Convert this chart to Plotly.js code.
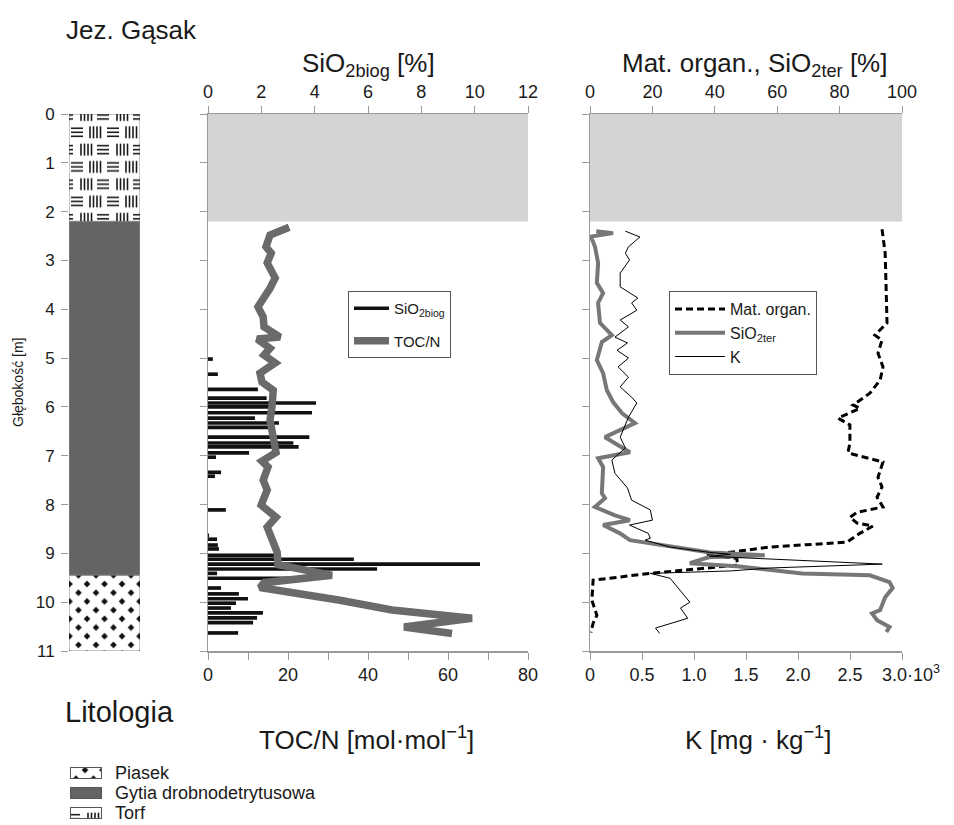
<!DOCTYPE html>
<html><head><meta charset="utf-8">
<script src="https://cdn.plot.ly/plotly-3.0.1.min.js"></script>
<style>html,body{margin:0;padding:0;background:#fff}</style>
</head><body><div id="chart" style="width:954px;height:825px"></div>
<script>
// ---------------- DATA ----------------
const lithNames = ['Torf', 'Gytia drobnodetrytusowa', 'Piasek'];
const lithTop = [0, 2.2, 9.45];
const lithBottom = [2.2, 9.45, 11];
const noDataDepth = [0, 2.2];
const depthTicks = [0,1,2,3,4,5,6,7,8,9,10,11];

// SiO2 biog [%] (bars)
const sio2Depth = [5.02,5.33,5.64,5.82,5.92,6.00,6.12,6.23,6.33,6.42,6.62,6.74,6.82,6.94,7.03,7.34,7.42,8.11,8.63,8.71,8.83,8.91,9.04,9.12,9.22,9.32,9.41,9.51,9.71,9.83,9.93,10.02,10.12,10.22,10.32,10.42,10.63];
const sio2Biog  = [0.18,0.37,1.87,2.2,4.05,2.4,3.9,1.76,2.66,2.4,3.8,3.2,3.4,1.54,0.3,0.49,0.26,0.67,0.04,0.34,0.37,0.41,2.55,5.47,10.2,6.34,0.34,3.68,0.49,1.16,1.5,1.05,0.86,2.06,1.84,1.69,1.13];

// TOC/N [mol/mol]
const tocDepth = [2.32,2.48,2.72,2.85,3.05,3.36,3.57,3.81,3.95,4.16,4.36,4.57,4.61,4.80,4.94,5.10,5.31,5.49,5.66,6.00,6.27,6.62,6.93,7.11,7.23,7.50,7.70,8.01,8.26,8.46,8.73,8.98,9.23,9.45,9.60,9.70,9.96,10.16,10.33,10.51,10.64];
const tocN     = [20.3,15.5,14.5,15.8,14.8,16.8,15.5,13.5,12.5,13.8,14.0,18.0,12.3,15.5,14.0,16.8,13.0,13.5,16.3,16.0,15.5,16.3,17.0,13.5,15.0,13.8,14.8,13.3,17.0,14.8,16.3,17.3,17.5,31.0,14.0,13.0,33.0,46.0,66.0,49.0,61.0];

// Mat. organ. [%]
const orgDepth = [2.36,2.85,3.54,4.28,4.53,4.63,4.90,5.18,5.45,5.72,5.96,6.03,6.23,6.37,6.74,6.93,6.97,7.13,7.44,7.64,7.85,8.05,8.16,8.26,8.38,8.44,8.59,8.77,8.87,9.04,9.10,9.24,9.41,9.55,9.96,10.27,10.43,10.62];
const matOrgan = [93.6,94.6,94.9,95.2,91.3,93.6,92.3,93.9,93.0,89.7,84.3,86.5,79.5,83.3,83.3,82.7,84.3,93.9,92.3,93.6,92.0,93.9,85.6,83.3,85.6,90.7,86.5,82.4,57.7,37.5,47.0,47.4,19.2,1.0,0.6,2.2,1.0,0.3];

// SiO2 ter [%]
const terDepth = [2.40,2.44,2.51,2.72,3.05,3.46,3.67,3.87,4.28,4.53,4.67,5.04,5.31,5.66,5.90,6.13,6.33,6.62,6.93,7.05,7.23,7.77,7.87,8.05,8.22,8.32,8.42,8.59,8.73,8.79,8.98,9.04,9.08,9.20,9.27,9.41,9.45,9.59,9.71,9.90,10.16,10.23,10.37,10.51,10.61];
const sio2Ter  = [2.0,7.4,0.3,1.6,2.6,2.2,4.2,2.6,3.2,7.0,3.8,2.2,4.2,5.4,7.4,10.3,14.4,4.8,12.8,2.6,4.2,3.8,4.8,1.6,8.0,12.8,4.2,9.6,12.8,19.2,38.5,56.0,38.0,32.0,48.0,68.0,89.7,96.0,97.0,94.6,93.0,90.4,92.0,96.0,95.0];

// K [10^3 mg/kg]
const kDepth = [2.40,2.52,2.72,2.85,2.99,3.26,3.54,3.77,3.87,4.02,4.22,4.36,4.57,4.69,4.84,5.00,5.18,5.39,5.59,5.80,5.92,6.21,6.62,6.84,7.09,7.36,7.66,7.91,8.11,8.32,8.42,8.59,8.69,8.73,8.87,8.98,9.02,9.06,9.22,9.30,9.36,9.41,9.51,9.82,10.00,10.12,10.33,10.53,10.64];
const kVal   = [0.34,0.48,0.37,0.34,0.38,0.29,0.29,0.46,0.40,0.45,0.29,0.37,0.24,0.36,0.26,0.37,0.27,0.37,0.29,0.40,0.45,0.37,0.29,0.34,0.21,0.24,0.36,0.40,0.58,0.60,0.38,0.56,0.58,0.53,0.77,1.15,1.35,1.15,2.81,1.73,1.35,0.58,0.77,0.89,0.96,0.87,0.94,0.63,0.67];

const topTicksSi = [0,2,4,6,8,10,12];
const tocTicks = [0,20,40,60,80];
const tocMinorTicks = [10,30,50,70];
const orgTicks = [0,20,40,60,80,100];
const kTicks = [0,0.5,1.0,1.5,2.0,2.5];
const kTickText = ['0','0.5','1.0','1.5','2.0','2.5'];
const kLastTick = [3.0];
const kLastLabel = '3.0·10<sup>3</sup>';

// ---------------- LAYOUT HELPERS ----------------
const W = 954, H = 825;
const px = v => v / W;
const py = v => 1 - v / H;
const FONT = '"Liberation Sans", Arial, sans-serif';
const AX = '#9a9a9a';
const TXT = '#1a1a1a';
const plotTop = 114, plotBot = 651, colL = 69, colR = 140;
const ppm = (plotBot - plotTop) / 11;

function patternSvg(kind, w, h, ox, oy, border) {
  let tile = '', tw = 36, th = 34.6;
  if (kind === 'torf') {
    const s = 'stroke="#1a1a1a" stroke-width="1.6"';
    let a = 8.65, b = 25.95;
    [12,15.5,19,22.5].forEach(x => tile += `<line x1="${x}" y1="${a-6}" x2="${x}" y2="${a+6}" ${s}/>`);
    [-4,0,4].forEach(d => { tile += `<line x1="28" y1="${a+d}" x2="36" y2="${a+d}" ${s}/><line x1="0" y1="${a+d}" x2="4" y2="${a+d}" ${s}/>`; });
    [-4,0,4].forEach(d => tile += `<line x1="2" y1="${b+d}" x2="14" y2="${b+d}" ${s}/>`);
    [21,24.5,28,31.5].forEach(x => tile += `<line x1="${x}" y1="${b-6}" x2="${x}" y2="${b+6}" ${s}/>`);
  } else if (kind === 'piasek') {
    tw = 17.5; th = 17.4;
    const r = 3.3;
    [[9,0],[9,17.4],[0,8.7],[17.5,8.7]].forEach(([cx,cy]) => {
      tile += `<path d="M${cx},${cy-r} L${cx+r},${cy} L${cx},${cy+r} L${cx-r},${cy} Z" fill="#111"/>`;
    });
  }
  let body = '';
  if (kind === 'gytia') body = `<rect x="0" y="0" width="${w}" height="${h}" fill="#646464"/>`;
  else body = `<defs><pattern id="p" patternUnits="userSpaceOnUse" x="${ox}" y="${oy}" width="${tw}" height="${th}">${tile}</pattern></defs><rect x="0" y="0" width="${w}" height="${h}" fill="url(#p)"/>`;
  if (border) body += `<rect x="0.5" y="0.5" width="${w-1}" height="${h-1}" fill="none" stroke="#555" stroke-width="1"/>`;
  const svg = `<svg xmlns="http://www.w3.org/2000/svg" width="${w}" height="${h}" viewBox="0 0 ${w} ${h}" preserveAspectRatio="none">${body}</svg>`;
  return 'data:image/svg+xml;charset=utf-8,' + encodeURIComponent(svg);
}

// ---------------- TRACES ----------------
const lithColors = ['#ffffff', '#646464', '#ffffff'];
const traces = [
  { type:'bar', orientation:'v', x: lithNames.map(() => 0.5), base: lithTop,
    y: lithTop.map((t,i) => lithBottom[i] - t), width: lithNames.map(() => 1),
    marker:{ color: lithColors, line:{ color:'#8a8a8a', width:1 } },
    xaxis:'x', yaxis:'y', showlegend:false },
  { type:'bar', orientation:'h', x: sio2Biog, y: sio2Depth, width: 0.075,
    marker:{ color:'#111', line:{ width:0 } }, xaxis:'x2', yaxis:'y2',
    showlegend:false, legendgroup:'sio2' },
  { type:'scatter', mode:'lines', x:[null], y:[null], name:'SiO<sub>2biog</sub>',
    line:{ color:'#111', width:3.5 }, xaxis:'x2', yaxis:'y2', legend:'legend2', legendgroup:'sio2' },
  { type:'scatter', mode:'lines', x: tocN, y: tocDepth, name:'TOC/N',
    line:{ color:'#6a6a6a', width:7.5 }, xaxis:'x3', yaxis:'y2', legend:'legend2' },
  { type:'scatter', mode:'lines', x: matOrgan, y: orgDepth, name:'Mat. organ.',
    line:{ color:'#000', width:3, dash:'7px,4px' }, xaxis:'x4', yaxis:'y3', legend:'legend3' },
  { type:'scatter', mode:'lines', x: sio2Ter, y: terDepth, name:'SiO<sub>2ter</sub>',
    line:{ color:'#777', width:4 }, xaxis:'x4', yaxis:'y3', legend:'legend3' },
  { type:'scatter', mode:'lines', x: kVal, y: kDepth, name:'K',
    line:{ color:'#000', width:1 }, xaxis:'x5', yaxis:'y3', legend:'legend3' }
];

// ---------------- LAYOUT ----------------
const tickFont = { family: FONT, size: 18, color: TXT };
const yDomain = [py(plotBot), py(plotTop)];
const baseX = { ticks:'outside', ticklen:7, tickcolor:AX, tickwidth:1, showline:true, linecolor:AX, linewidth:1.5,
  showgrid:false, zeroline:false, tickfont:tickFont, fixedrange:true, tickmode:'array' };
const baseY = { domain:yDomain, range:[11,0], tickvals:depthTicks, ticks:'outside', ticklen:7, tickcolor:AX,
  showgrid:false, zeroline:false, fixedrange:true };

const images = [];
[0,2].forEach(i => {
  const kind = i === 0 ? 'torf' : 'piasek';
  const hpx = (lithBottom[i] - lithTop[i]) * ppm;
  images.push({ source: patternSvg(kind, colR - colL, hpx, i === 0 ? 0 : 0.5, i === 0 ? -7.65 : 0, false),
    xref:'x', yref:'y', x:0, y:lithTop[i], sizex:1, sizey:lithBottom[i] - lithTop[i],
    xanchor:'left', yanchor:'top', sizing:'stretch', layer:'above' });
});
// lithology legend icons
const iconKinds = ['piasek','gytia','torf'];
const iconTop = [767, 787, 807];
iconKinds.forEach((k,i) => {
  images.push({ source: patternSvg(k, 32, 12, 6, 3, true), xref:'paper', yref:'paper',
    x: px(70), y: py(iconTop[i]), sizex: px(32), sizey: 12 / H, xanchor:'left', yanchor:'top',
    sizing:'stretch', layer:'above' });
});

const ann = (text, x, y, size, opts = {}) => Object.assign({ text, x, y, xref:'paper', yref:'paper',
  showarrow:false, font:{ family:FONT, size, color:TXT }, xanchor:'center', yanchor:'middle', borderpad:0 }, opts);

const layout = {
  width: W, height: H, margin:{ l:0, r:0, t:0, b:0 },
  paper_bgcolor:'#fff', plot_bgcolor:'rgba(0,0,0,0)',
  font:{ family:FONT, color:TXT },
  barmode:'overlay', showlegend:true, hovermode:false,
  xaxis:{ domain:[px(colL), px(colR)], range:[0,1], anchor:'y', visible:false, fixedrange:true },
  yaxis: Object.assign({}, baseY, { anchor:'x', showline:false, tickfont:{ family:FONT, size:17, color:TXT }, ticklabelstandoff:3 }),
  xaxis2: Object.assign({}, baseX, { domain:[px(208), px(528)], range:[0,12], anchor:'y2', side:'top', tickvals:topTicksSi }),
  xaxis3: Object.assign({}, baseX, { overlaying:'x2', anchor:'y2', side:'bottom', range:[0,80], tickvals:tocTicks,
    minor:{ tickmode:'array', tickvals:tocMinorTicks, ticks:'outside', ticklen:7, tickcolor:AX } }),
  yaxis2: Object.assign({}, baseY, { anchor:'x2', showticklabels:false, showline:true, linecolor:AX, linewidth:1.5 }),
  xaxis4: Object.assign({}, baseX, { domain:[px(590), px(902)], range:[0,100], anchor:'y3', side:'top', tickvals:orgTicks }),
  xaxis5: Object.assign({}, baseX, { overlaying:'x4', anchor:'y3', side:'bottom', range:[0,3], tickvals:kTicks, ticktext:kTickText,
    minor:{ tickmode:'array', tickvals:kLastTick, ticks:'outside', ticklen:7, tickcolor:AX } }),
  yaxis3: Object.assign({}, baseY, { anchor:'x4', showticklabels:false, showline:true, linecolor:AX, linewidth:1.5 }),
  legend2:{ x:px(348), y:py(291), xanchor:'left', yanchor:'top', bgcolor:'#fff', bordercolor:'#555', borderwidth:1,
    font:{ family:FONT, size:15, color:TXT }, itemwidth:35 },
  legend3:{ x:px(669), y:py(291), xanchor:'left', yanchor:'top', bgcolor:'#fff', bordercolor:'#555', borderwidth:1,
    font:{ family:FONT, size:16, color:TXT }, itemwidth:50 },
  shapes:[
    { type:'rect', xref:'x2 domain', yref:'y2', x0:0, x1:1, y0:noDataDepth[0], y1:noDataDepth[1], fillcolor:'#d4d4d4', line:{ width:0 }, layer:'below' },
    { type:'rect', xref:'x4 domain', yref:'y3', x0:0, x1:1, y0:noDataDepth[0], y1:noDataDepth[1], fillcolor:'#d4d4d4', line:{ width:0 }, layer:'below' }
  ],
  images: images,
  annotations:[
    ann('Jez. Gąsak', px(65), py(30), 26, { xanchor:'left' }),
    ann('SiO<sub>2biog</sub> [%]', px(368), py(64), 26),
    ann('Mat. organ., SiO<sub>2ter</sub> [%]', px(754), py(64), 26),
    ann('TOC/N [mol·mol<sup>−1</sup>]', px(366), py(738), 26),
    ann('K [mg · kg<sup>−1</sup>]', px(758), py(738), 26),
    ann('Głębokość [m]', px(18), py(383), 14, { textangle:-90 }),
    { text:kLastLabel, xref:'x5', yref:'paper', x:kLastTick[0], y:py(673), xshift:-22, xanchor:'left', yanchor:'middle',
      showarrow:false, font:{ family:FONT, size:18, color:TXT } },
    ann('Litologia', px(64), py(712), 29, { xanchor:'left' }),
    ann('Piasek', px(114), py(773), 18, { xanchor:'left' }),
    ann('Gytia drobnodetrytusowa', px(114), py(793), 18, { xanchor:'left' }),
    ann('Torf', px(114), py(813), 18, { xanchor:'left' })
  ]
};

Plotly.newPlot('chart', traces, layout, { displayModeBar:false, staticPlot:true });
</script>
</body></html>
